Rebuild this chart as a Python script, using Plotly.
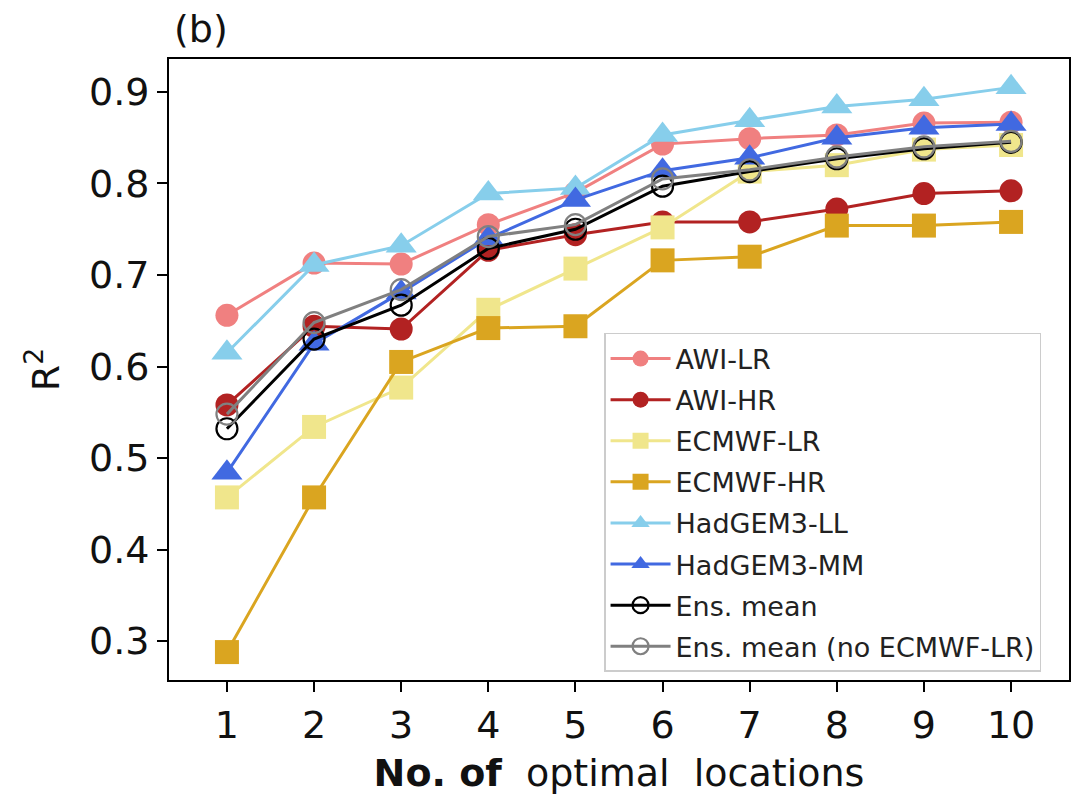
import plotly.graph_objects as go

x_vals = [1, 2, 3, 4, 5, 6, 7, 8, 9, 10]

awi_lr = [0.656, 0.713, 0.712, 0.755, 0.790, 0.843, 0.849, 0.853, 0.866, 0.867]
awi_hr = [0.558, 0.644, 0.641, 0.727, 0.744, 0.758, 0.758, 0.772, 0.789, 0.792]
ecmwf_lr = [0.457, 0.534, 0.577, 0.662, 0.707, 0.752, 0.813, 0.820, 0.837, 0.842]
ecmwf_hr = [0.288, 0.457, 0.605, 0.642, 0.644, 0.716, 0.720, 0.754, 0.754, 0.758]
hadgem_ll = [0.615, 0.711, 0.732, 0.789, 0.795, 0.853, 0.869, 0.884, 0.892, 0.905]
hadgem_mm = [0.484, 0.625, 0.681, 0.740, 0.782, 0.814, 0.828, 0.850, 0.861, 0.865]
ens_mean = [0.532, 0.630, 0.667, 0.729, 0.750, 0.797, 0.813, 0.827, 0.838, 0.845]
ens_mean_no_lr = [0.548, 0.648, 0.684, 0.742, 0.755, 0.805, 0.815, 0.829, 0.840, 0.846]

series = [
    ("AWI-LR", awi_lr, "#F08080", "circle", 23),
    ("AWI-HR", awi_hr, "#B22222", "circle", 23),
    ("ECMWF-LR", ecmwf_lr, "#F0E68C", "square", 24),
    ("ECMWF-HR", ecmwf_hr, "#DAA520", "square", 24),
    ("HadGEM3-LL", hadgem_ll, "#87CEEB", "triangle-up", 27),
    ("HadGEM3-MM", hadgem_mm, "#4169E1", "triangle-up", 27),
    ("Ens. mean", ens_mean, "#000000", "circle-open", 21),
    ("Ens. mean (no ECMWF-LR)", ens_mean_no_lr, "#808080", "circle-open", 21),
]

FONT = "DejaVu Sans"

fig = go.Figure()
for i, (name, vals, color, sym, size) in enumerate(series):
    marker = dict(symbol=sym, size=size, color=color)
    if sym == "circle-open":
        marker["line"] = dict(width=2.2, color=color)
    fig.add_trace(go.Scatter(
        x=x_vals, y=vals, name=name, mode="lines+markers",
        line=dict(color=color, width=3),
        marker=marker,
        legendgroup="g%d" % i,
    ))

fig.update_layout(
    width=1079, height=796,
    margin=dict(l=169, r=8, t=59, b=116),
    paper_bgcolor="white", plot_bgcolor="white",
    font=dict(family=FONT, color="black", size=38),
    showlegend=True,
    legend=dict(
        x=0.4834, y=0.5588, xanchor="left", yanchor="top",
        bgcolor="rgba(255,255,255,0.8)", bordercolor="#CCCCCC", borderwidth=1.5,
        font=dict(family=FONT, size=27, color="#222222"),
        tracegroupgap=3,
        itemwidth=60,
    ),
    xaxis=dict(
        range=[0.335, 10.665],
        tickmode="array", tickvals=x_vals, ticktext=[str(v) for v in x_vals],
        ticks="outside", ticklen=10, tickwidth=2, tickcolor="black",
        showline=True, linecolor="black", linewidth=2, mirror=True,
        showgrid=False, zeroline=False,
        tickfont=dict(family=FONT, size=38, color="#111111"),
        title=dict(text="<b>No. of</b>\u00a0 optimal\u00a0 locations",
                   font=dict(family=FONT, size=38, color="#111111"), standoff=14),
    ),
    yaxis=dict(
        range=[0.2575, 0.936],
        tickmode="array", tickvals=[0.3, 0.4, 0.5, 0.6, 0.7, 0.8, 0.9],
        ticktext=["0.3", "0.4", "0.5", "0.6", "0.7", "0.8", "0.9"],
        ticks="outside", ticklen=10, tickwidth=2, tickcolor="black",
        showline=True, linecolor="black", linewidth=2, mirror=True,
        showgrid=False, zeroline=False,
        tickfont=dict(family=FONT, size=38, color="#111111"),
        title=dict(text="R<sup>2</sup>",
                   font=dict(family=FONT, size=38, color="#111111"), standoff=18),
    ),
    annotations=[dict(
        text="(b)", xref="paper", yref="paper", x=0.003, y=1,
        xanchor="left", yanchor="bottom", yshift=6, showarrow=False,
        font=dict(family=FONT, size=38, color="#111111"),
    )],
)

fig.write_html("out.html")
